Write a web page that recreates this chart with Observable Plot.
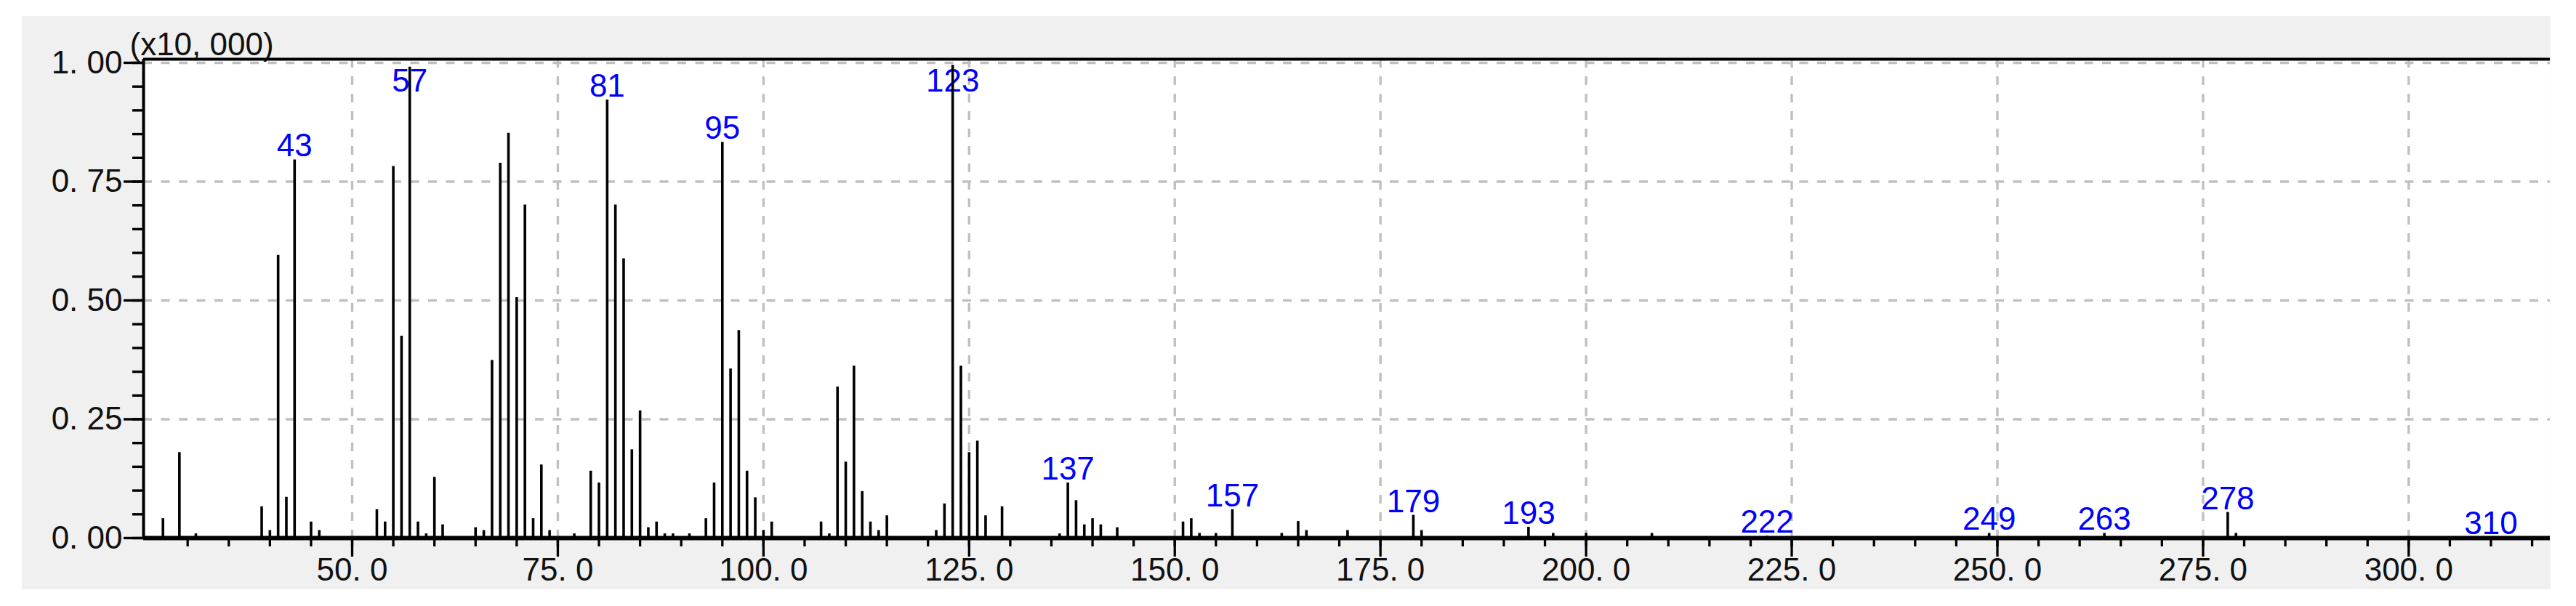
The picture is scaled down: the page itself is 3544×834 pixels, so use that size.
<!DOCTYPE html>
<html>
<head>
<meta charset="utf-8">
<script src="https://cdn.jsdelivr.net/npm/d3@7"></script>
<script src="https://cdn.jsdelivr.net/npm/@observablehq/plot@0.6"></script>
<style>
  html, body { margin: 0; padding: 0; background: #ffffff; }
  #wrap { position: relative; width: 3544px; height: 834px; overflow: hidden; }
  #panel { position: absolute; left: 30px; top: 22px; width: 3479px; height: 789px; background: #f0f0f0; }
  #chart { position: absolute; left: 0; top: 0; }
</style>
</head>
<body>
<div id="wrap"><div id="panel"></div><div id="chart"></div></div>
<script>
// m/z values (integer masses) and intensities (x10,000)
const mz = [27, 29, 31, 39, 40, 41, 42, 43, 45, 46, 53, 54, 55, 56, 57, 58, 59, 60, 61, 65,
  66, 67, 68, 69, 70, 71, 72, 73, 74, 77, 79, 80, 81, 82, 83, 84, 85, 86, 87, 88,
  89, 91, 93, 94, 95, 96, 97, 98, 99, 100, 101, 107, 108, 109, 110, 111, 112, 113, 114, 115,
  121, 122, 123, 124, 125, 126, 127, 129, 136, 137, 138, 139, 140, 141, 143, 151, 152, 153, 155, 157,
  163, 165, 166, 171, 179, 180, 193, 196, 200, 208, 222, 249, 263, 278, 279, 310];
const intensity = [0.041, 0.180, 0.009, 0.066, 0.016, 0.595, 0.086, 0.796, 0.034, 0.016, 0.060, 0.034, 0.782, 0.425, 0.991, 0.034, 0.009, 0.128, 0.028, 0.022,
  0.016, 0.374, 0.789, 0.852, 0.506, 0.701, 0.041, 0.154, 0.016, 0.009, 0.141, 0.116, 0.922, 0.701, 0.588, 0.186, 0.268, 0.022, 0.034, 0.009,
  0.009, 0.009, 0.041, 0.116, 0.833, 0.356, 0.437, 0.141, 0.085, 0.016, 0.034, 0.034, 0.009, 0.318, 0.160, 0.362, 0.098, 0.034, 0.016, 0.047,
  0.016, 0.072, 0.995, 0.362, 0.180, 0.204, 0.047, 0.066, 0.009, 0.116, 0.079, 0.028, 0.041, 0.028, 0.022, 0.034, 0.041, 0.010, 0.010, 0.060,
  0.010, 0.035, 0.016, 0.016, 0.048, 0.016, 0.023, 0.010, 0.010, 0.010, 0.004, 0.010, 0.010, 0.054, 0.010, 0.001];
// peaks that carry an m/z label
const peakLabels = [43, 57, 81, 95, 123, 137, 157, 179, 193, 222, 249, 263, 278, 310];
// axis ticks
const xMajorTicks = [50, 75, 100, 125, 150, 175, 200, 225, 250, 275, 300];
const xMinorTicks = d3.range(30, 320, 5);
const yMajorTicks = [0, 0.25, 0.5, 0.75, 1.0];
const yMinorTicks = d3.range(0, 21).map(i => i * 0.05);
const unitLabel = "(x10, 000)";

const xDomain = [24.64, 317.2];
const yDomain = [0, 1.0076];
const labelCap = 0.933;

const data = mz.map((m, i) => ({mz: m, v: intensity[i]}));
const labels = peakLabels.map(m => {
  const d = data.find(e => e.mz === m);
  return {mz: m, v: Math.min(d.v, labelCap)};
});

const font = "'Liberation Sans', Arial, sans-serif";
const fmtX = d => d.toFixed(1).replace(".", ". ");
const fmtY = d => d.toFixed(2).replace(".", ". ");

const plot = Plot.plot({
  width: 3544,
  height: 834,
  marginLeft: 197,
  marginRight: 36,
  marginTop: 81,
  marginBottom: 94,
  style: {background: "transparent", overflow: "visible", color: "black"},
  x: {domain: xDomain},
  y: {domain: yDomain},
  marks: [
    Plot.frame({fill: "white", stroke: "none"}),
    Plot.gridX(xMajorTicks, {stroke: "#c0c0c0", strokeOpacity: 1, strokeWidth: 3.4, strokeDasharray: "12,12"}),
    Plot.gridY(yMajorTicks.filter(d => d > 0), {stroke: "#c0c0c0", strokeOpacity: 1, strokeWidth: 3.4, strokeDasharray: "12,12.5"}),
    Plot.text(labels, {x: "mz", y: "v", text: d => String(d.mz), lineAnchor: "bottom", dy: -4.5,
      fill: "#0000ff", fontSize: 44, fontFamily: font}),
    Plot.ruleX(data, {x: "mz", y1: 0, y2: "v", stroke: "black", strokeWidth: 3.6}),
    Plot.axisX(xMinorTicks, {tickSize: 12, fill: "none", stroke: "black", strokeWidth: 3.3, label: null}),
    Plot.axisX(xMajorTicks, {tickSize: 26, tickPadding: 1, tickFormat: fmtX, stroke: "black", fill: "#111",
      strokeWidth: 3.3, fontSize: 44, fontFamily: font, label: null}),
    Plot.axisY(yMinorTicks, {tickSize: 15, fill: "none", stroke: "black", strokeWidth: 3.4, label: null}),
    Plot.axisY(yMajorTicks, {tickSize: 27, tickPadding: 2, tickFormat: fmtY, stroke: "black", fill: "#111",
      strokeWidth: 3.4, fontSize: 44, fontFamily: font, label: null}),
    Plot.text([unitLabel], {frameAnchor: "top-left", dx: -19, dy: -6, lineAnchor: "bottom", textAnchor: "start",
      fill: "#111", fontSize: 44, fontFamily: font}),
    Plot.ruleY([yDomain[0]], {stroke: "black", strokeWidth: 6}),
    Plot.ruleX([xDomain[0]], {stroke: "black", strokeWidth: 4}),
    Plot.ruleY([yDomain[1]], {stroke: "black", strokeWidth: 4})
  ]
});

document.getElementById("chart").appendChild(plot);
</script>
</body>
</html>
